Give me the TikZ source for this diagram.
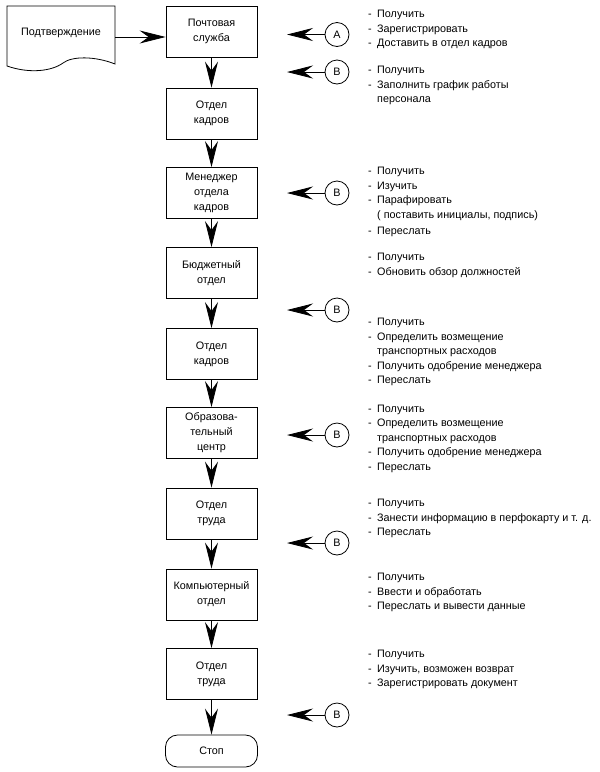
\documentclass[tikz,border=0pt]{standalone}
\usepackage{fontspec}
\setmainfont{Liberation Sans}
\usetikzlibrary{arrows.meta}
\newcommand\lidash{\makebox[9pt][l]{-}}
\newcommand\lind{\hspace*{9pt}}
\begin{document}
\begin{tikzpicture}[x=1pt,y=-1pt,
  every node/.style={font=\fontsize{10.8}{15}\selectfont},
  proc/.style={draw, line width=0.8pt, minimum width=91pt, minimum height=51pt, align=center, inner sep=0pt},
  term/.style={draw, line width=0.8pt, rounded corners=12pt, minimum width=92pt, minimum height=32pt, inner sep=0pt},
  conn/.style={draw, circle, line width=0.8pt, minimum size=24pt, inner sep=0pt},
  flow/.style={line width=0.8pt, -{Stealth[length=26pt,width=13pt,inset=9pt]}},
  note/.style={anchor=base west, align=left, inner sep=0pt, font=\fontsize{10.8}{14.5}\selectfont}
]
\useasboundingbox (0,0) rectangle (600,772);
% document shape
\draw[line width=0.8pt] (7,66) -- (7,6) -- (115,6) -- (115,64)
  .. controls (95,56) and (72,56) .. (63,63)
  .. controls (52,71) and (30,74) .. cycle;
\node (doc) at (61,33) {Подтверждение};
\coordinate (docR) at (115,37);

% process boxes
\node[proc] (b1) at (211.5,31.5) {Почтовая\\служба};
\node[proc] (b2) at (211.5,113.5) {Отдел\\кадров};
\node[proc] (b3) at (211.5,193) {Менеджер\\отдела\\кадров};
\node[proc] (b4) at (211.5,273) {Бюджетный\\отдел};
\node[proc] (b5) at (211.5,354) {Отдел\\кадров};
\node[proc] (b6) at (211.5,433) {Образова-\\тельный\\центр};
\node[proc] (b7) at (211.5,513.5) {Отдел\\труда};
\node[proc] (b8) at (211.5,594.5) {Компьютерный\\отдел};
\node[proc] (b9) at (211.5,674) {Отдел\\труда};
\node[term] (stop) at (211.5,751) {Стоп};

\draw[flow] (docR) -- (docR -| b1.west);
\draw[flow] (b1) -- (b2);
\draw[flow] (b2) -- (b3);
\draw[flow] (b3) -- (b4);
\draw[flow] (b4) -- (b5);
\draw[flow] (b5) -- (b6);
\draw[flow] (b6) -- (b7);
\draw[flow] (b7) -- (b8);
\draw[flow] (b8) -- (b9);
\draw[flow] (b9) -- (stop);

% connectors
\node[conn] (cA) at (337,34.5) {A};
\node[conn] (c1) at (337,72) {B};
\node[conn] (c2) at (337,193) {B};
\node[conn] (c3) at (337,310) {B};
\node[conn] (c4) at (337,435) {B};
\node[conn] (c5) at (337,543) {B};
\node[conn] (c6) at (337,715) {B};
\coordinate (tA) at (287,34.5);
\coordinate (t1) at (287,72);
\coordinate (t2) at (287,193);
\coordinate (t3) at (287,310);
\coordinate (t4) at (287,435);
\coordinate (t5) at (287,543);
\coordinate (t6) at (287,715);
\draw[flow] (cA) -- (tA);
\draw[flow] (c1) -- (t1);
\draw[flow] (c2) -- (t2);
\draw[flow] (c3) -- (t3);
\draw[flow] (c4) -- (t4);
\draw[flow] (c5) -- (t5);
\draw[flow] (c6) -- (t6);

% notes (anchor = baseline of last line)
\node[note] (n1) at (368,46.5) {\lidash Получить\\\lidash Зарегистрировать\\\lidash Доставить в отдел кадров};
\node[note] (n2) at (368,102.5) {\lidash Получить\\\lidash Заполнить график работы\\\lind персонала};
\node[note] (n3) at (368,234.5) {\lidash Получить\\\lidash Изучить\\\lidash Парафировать\\\lind ( поставить инициалы, подпись)\\[2pt]\lidash Переслать};
\node[note] (n4) at (368,275) {\lidash Получить\\\lidash Обновить обзор должностей};
\node[note] (n5) at (368,383.5) {\lidash Получить\\\lidash Определить возмещение\\\lind транспортных расходов\\\lidash Получить одобрение менеджера\\\lidash Переслать};
\node[note] (n6) at (368,470) {\lidash Получить\\\lidash Определить возмещение\\\lind транспортных расходов\\\lidash Получить одобрение менеджера\\\lidash Переслать};
\node[note] (n7) at (368,535.5) {\lidash Получить\\\lidash Занести информацию в перфокарту и т. д.\\\lidash Переслать};
\node[note] (n8) at (368,609.5) {\lidash Получить\\\lidash Ввести и обработать\\\lidash Переслать и вывести данные};
\node[note] (n9) at (368,686.5) {\lidash Получить\\\lidash Изучить, возможен возврат\\\lidash Зарегистрировать документ};
\end{tikzpicture}
\end{document}
